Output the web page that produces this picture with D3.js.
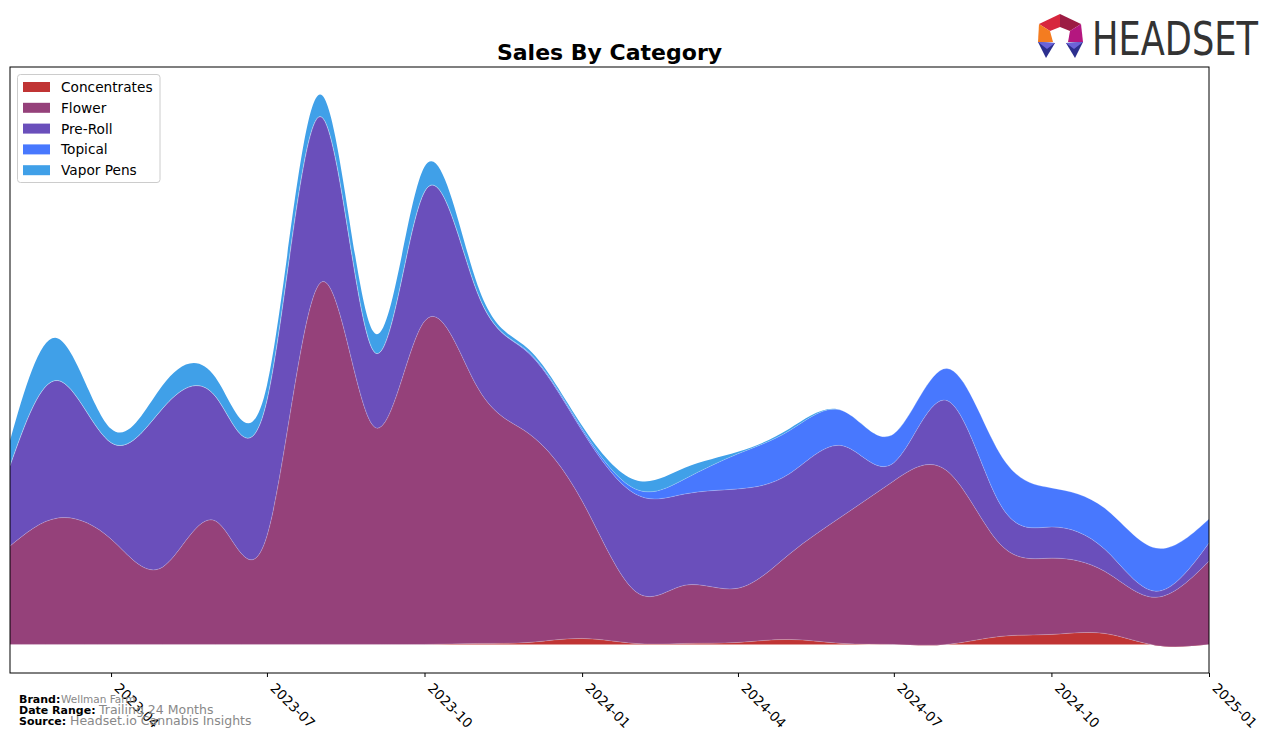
<!DOCTYPE html>
<html>
<head>
<meta charset="utf-8">
<script src="https://cdn.jsdelivr.net/npm/d3@7"></script>
<style>
  html, body { margin: 0; padding: 0; background: #fff; }
  svg { display: block; }
</style>
</head>
<body>
<svg id="chart" width="1276" height="743"></svg>
<script>
// ---- data ----
const months = ["2023-02","2023-03","2023-04","2023-05","2023-06","2023-07","2023-08","2023-09","2023-10","2023-11","2023-12",
                "2024-01","2024-02","2024-03","2024-04","2024-05","2024-06","2024-07","2024-08","2024-09","2024-10","2024-11","2024-12","2025-01"];
const categories = ["Concentrates","Flower","Pre-Roll","Topical","Vapor Pens"];
const concentrates = [0,0,0,0,0,0,0,0,0,1,2,6,1,1,2,5,1,0,0,8,10,11,-1,0];
const flower       = [98,126,105,77,123,108,360,218,322,255,208,137,52,58,54,85,127,163,173,92,76,62,48,83];
const preRoll      = [80,137,96,158,124,135,166,75,129,94,80,70,97,91,99,80,70,18,70,40,31,22,6,18];
const topical      = [0,0,0,0,0,0,0,0,0,0,1,2,5,15,35,43,35,29,32,50,39,41,43,24];
const vaporPens    = [25,42,14,23,19,15,22,19,25,8,3,3,9,11,2,2,0,0,0,0,0,0,0,0];
const tickLabels = ["2023-04","2023-07","2023-10","2024-01","2024-04","2024-07","2024-10","2025-01"];
const colors = ["#c03434","#95417a","#6a4fbb","#4878fe","#40a0e8"];

// ---- build table ----
const parse = d3.timeParse("%Y-%m");
const series = [concentrates, flower, preRoll, topical, vaporPens];
const table = months.map((m, i) => {
  const row = { date: parse(m) };
  categories.forEach((c, k) => row[c] = series[k][i]);
  return row;
});
const stacked = d3.stack().keys(categories).offset(d3.stackOffsetNone)(table);

// ---- layout ----
const svg = d3.select("#chart");
const plot = { left: 10, right: 1209, top: 67, bottom: 673 };

const x = d3.scaleTime()
  .domain([parse(months[0]), parse(months[months.length - 1])])
  .range([plot.left, plot.right]);

const allVals = stacked.flatMap(s => s.flatMap(d => [d[0], d[1]]));
const yMin = d3.min(allVals), yMax = d3.max(allVals);
const pad = (yMax - yMin) * 0.05;
const y = d3.scaleLinear().domain([yMin - pad, yMax + pad]).range([plot.bottom, plot.top]);

svg.append("defs").append("clipPath").attr("id", "clip")
  .append("rect").attr("x", plot.left).attr("y", plot.top)
  .attr("width", plot.right - plot.left).attr("height", plot.bottom - plot.top);

const area = d3.area()
  .x(d => x(d.data.date))
  .y0(d => y(d[0]))
  .y1(d => y(d[1]))
  .curve(d3.curveNatural);
const topLine = d3.line()
  .x(d => x(d.data.date))
  .y(d => y(d[1]))
  .curve(d3.curveNatural);

const g = svg.append("g").attr("clip-path", "url(#clip)");
g.selectAll("path.area").data(stacked).join("path")
  .attr("class", "area")
  .attr("d", area)
  .attr("fill", (d, i) => colors[i]);
g.selectAll("path.seam").data(stacked.slice(0, 4)).join("path")
  .attr("class", "seam")
  .attr("d", topLine)
  .attr("fill", "none")
  .attr("stroke", "#ffffff")
  .attr("stroke-opacity", 0.3)
  .attr("stroke-width", 0.7);

// frame
svg.append("rect")
  .attr("x", plot.left).attr("y", plot.top)
  .attr("width", plot.right - plot.left).attr("height", plot.bottom - plot.top)
  .attr("fill", "none").attr("stroke", "#000").attr("stroke-width", 1);

// x axis
const tickDates = tickLabels.map(t => parse(t));
const xAxis = d3.axisBottom(x).tickValues(tickDates).tickFormat(d3.timeFormat("%Y-%m")).tickSize(4).tickSizeOuter(0);
const ax = svg.append("g").attr("transform", `translate(0,${plot.bottom})`).call(xAxis);
ax.select(".domain").remove();
ax.selectAll(".tick line").attr("stroke", "#000");
ax.selectAll(".tick text")
  .attr("font-family", "DejaVu Sans")
  .attr("font-size", 13.5)
  .attr("fill", "#000")
  .attr("text-anchor", "start")
  .attr("dy", null)
  .attr("y", 0)
  .attr("x", 0)
  .attr("transform", "translate(2,16) rotate(45)");

// title
svg.append("text")
  .attr("x", (plot.left + plot.right) / 2).attr("y", 60)
  .attr("text-anchor", "middle")
  .attr("font-family", "DejaVu Sans").attr("font-weight", "bold").attr("font-size", 22)
  .attr("fill", "#000")
  .text("Sales By Category");

// legend
const lg = svg.append("g");
lg.append("rect").attr("x", 17.5).attr("y", 74.5).attr("width", 142.5).attr("height", 108)
  .attr("rx", 3).attr("fill", "#fff").attr("stroke", "#cccccc");
categories.forEach((c, i) => {
  const cy = 87 + i * 20.8;
  lg.append("rect").attr("x", 23).attr("y", cy - 5).attr("width", 27).attr("height", 10).attr("fill", colors[i]);
  lg.append("text").attr("x", 61).attr("y", cy + 5)
    .attr("font-family", "DejaVu Sans").attr("font-size", 13.7).attr("fill", "#000").text(c);
});

// footer
const foot = [
  { label: "Brand:", value: "Wellman Farm", y: 703, vx: 61, vs: 10.5 },
  { label: "Date Range:", value: "Trailing 24 Months", y: 714, vx: 99, vs: 12.5 },
  { label: "Source:", value: "Headset.io Cannabis Insights", y: 725, vx: 70, vs: 12.5 }
];
foot.forEach(f => {
  svg.append("text").attr("x", 19).attr("y", f.y)
    .attr("font-family", "DejaVu Sans").attr("font-weight", "bold").attr("font-size", 11)
    .attr("fill", "#000").text(f.label);
  svg.append("text").attr("x", f.vx).attr("y", f.y)
    .attr("font-family", "DejaVu Sans").attr("font-size", f.vs)
    .attr("fill", "#888").text(f.value);
});

// logo
const logo = svg.append("g");
const polys = [
  { p: [[1039,24],[1060,14],[1060,27],[1050,31]], c: "#d7263d" },
  { p: [[1060,14],[1081,24],[1070,31],[1060,27]], c: "#9c1c43" },
  { p: [[1039,24],[1050,31],[1053,42],[1038,42]], c: "#f47c20" },
  { p: [[1081,24],[1083,42],[1068,42],[1070,31]], c: "#b4177f" },
  { p: [[1038,42],[1055,43],[1046,58]], c: "#2c2f8e" },
  { p: [[1038,42],[1055,43],[1047,49]], c: "#6b63d8" },
  { p: [[1066,43],[1083,42],[1075,58]], c: "#2c2f8e" },
  { p: [[1066,43],[1083,42],[1074,49]], c: "#6b63d8" }
];
polys.forEach(o => logo.append("polygon").attr("points", o.p.map(q => q.join(",")).join(" ")).attr("fill", o.c));
logo.append("text").attr("x", 1092).attr("y", 55)
  .attr("font-family", "DejaVu Sans").attr("font-size", 47).attr("fill", "#333")
  .attr("textLength", 166).attr("lengthAdjust", "spacingAndGlyphs")
  .text("HEADSET");
</script>
</body>
</html>
